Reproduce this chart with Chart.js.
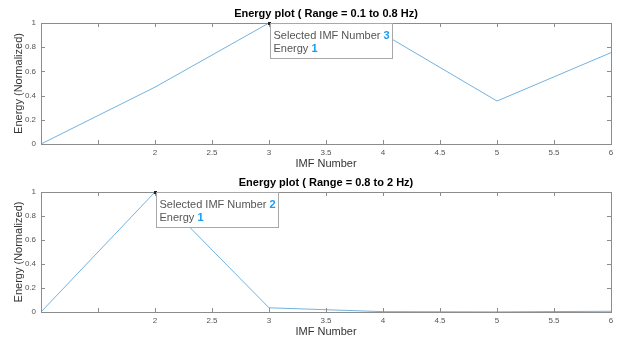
<!DOCTYPE html>
<html><head><meta charset="utf-8">
<script src="https://cdn.jsdelivr.net/npm/chart.js@4.4.1/dist/chart.umd.min.js"></script>
<style>
html,body{margin:0;padding:0;background:#fff;}
#wrap{position:relative;width:619px;height:340px;}
canvas{position:absolute;left:0;}
</style></head>
<body><div id="wrap">
<canvas id="c1" width="619" height="170" style="top:0"></canvas>
<canvas id="c2" width="619" height="170" style="top:170px"></canvas>
</div>
<script>
const imfNumbers = [1, 2, 3, 4, 5, 6];
const energyLow = [0, 0.47, 1, 0.91, 0.355, 0.755];
const energyHigh = [0, 1, 0.035, 0.003, 0.001, 0.006];
const titles = ["Energy plot ( Range = 0.1 to 0.8 Hz)", "Energy plot ( Range = 0.8 to 2 Hz)"];
const xTickValues = [1, 1.5, 2, 2.5, 3, 3.5, 4, 4.5, 5, 5.5, 6];
const xTickLabels = ["", "", "2", "2.5", "3", "3.5", "4", "4.5", "5", "5.5", "6"];
const yTickValues = [0, 0.2, 0.4, 0.6, 0.8, 1];
const yTickLabels = ["0", "0.2", "0.4", "0.6", "0.8", "1"];
const tipIndex = [2, 1];
const xTitle = "IMF Number";
const yTitle = "Energy (Normalized)";

const FONT = "'Liberation Sans', Arial, Helvetica, sans-serif";

function makeChart(id, values, title, tipIdx, topPad, xAxisH) {
  const axesPlugin = {
    id: 'matlabAxes',
    afterDraw(chart) {
      const ctx = chart.ctx, a = chart.chartArea;
      const xs = chart.scales.x, ys = chart.scales.y;
      ctx.save();
      // box
      ctx.strokeStyle = '#8c8c8c';
      ctx.lineWidth = 1;
      ctx.strokeRect(Math.round(a.left) + 0.5, Math.round(a.top) + 0.5, Math.round(a.right - a.left), Math.round(a.bottom - a.top));
      // inward ticks
      ctx.beginPath();
      xTickValues.forEach(v => {
        const px = Math.round(xs.getPixelForValue(v)) + 0.5;
        ctx.moveTo(px, a.bottom); ctx.lineTo(px, a.bottom - 4);
        ctx.moveTo(px, a.top); ctx.lineTo(px, a.top + 4);
      });
      yTickValues.forEach(v => {
        const py = Math.round(ys.getPixelForValue(v)) + 0.5;
        ctx.moveTo(a.left, py); ctx.lineTo(a.left + 4, py);
        ctx.moveTo(a.right, py); ctx.lineTo(a.right - 4, py);
      });
      ctx.stroke();
      // title
      ctx.fillStyle = '#000';
      ctx.font = 'bold 11px ' + FONT;
      ctx.textAlign = 'center';
      ctx.textBaseline = 'middle';
      ctx.fillText(title, (a.left + a.right) / 2, a.top - 9);
      // axis titles
      ctx.fillStyle = '#333';
      ctx.font = '11px ' + FONT;
      ctx.fillText(xTitle, (a.left + a.right) / 2, a.bottom + 20);
      ctx.save();
      ctx.translate(19, (a.top + a.bottom) / 2);
      ctx.rotate(-Math.PI / 2);
      ctx.fillText(yTitle, 0, 0);
      ctx.restore();
      // data tip
      const px = xs.getPixelForValue(imfNumbers[tipIdx]);
      const py = ys.getPixelForValue(values[tipIdx]);
      ctx.fillStyle = '#222';
      ctx.fillRect(Math.round(px) - 1, Math.round(py) - 1, 3, 3);
      const bx = Math.round(px) + 1.5, by = Math.round(py) + 0.5, bw = 122, bh = 35;
      ctx.fillStyle = 'rgba(255,255,255,0.97)';
      ctx.fillRect(bx, by, bw, bh);
      ctx.strokeStyle = '#a8a8a8';
      ctx.strokeRect(bx, by, bw, bh);
      ctx.textAlign = 'left';
      ctx.font = '11px ' + FONT;
      const l1 = 'Selected IMF Number ', l2 = 'Energy ';
      const w1 = ctx.measureText(l1).width, w2 = ctx.measureText(l2).width;
      ctx.fillStyle = '#555';
      ctx.fillText(l1, bx + 3, by + 12);
      ctx.fillText(l2, bx + 3, by + 25);
      ctx.fillStyle = '#1a9cf0';
      ctx.font = 'bold 11px ' + FONT;
      ctx.fillText(String(imfNumbers[tipIdx]), bx + 3 + w1, by + 12);
      ctx.fillText(String(values[tipIdx]), bx + 3 + w2, by + 25);
      ctx.restore();
    }
  };
  return new Chart(document.getElementById(id), {
    type: 'line',
    data: {
      datasets: [{
        data: imfNumbers.map((x, i) => ({x: x, y: values[i]})),
        borderColor: '#72b2df',
        borderWidth: 1,
        pointRadius: 0,
        tension: 0,
        fill: false
      }]
    },
    options: {
      responsive: false,
      animation: false,
      events: [],
      layout: {padding: {left: 0, right: 8, top: topPad, bottom: 0}},
      plugins: {legend: {display: false}, tooltip: {enabled: false}, title: {display: false}},
      scales: {
        x: {
          type: 'linear', min: 1, max: 6,
          afterBuildTicks(s) { s.ticks = xTickValues.map(v => ({value: v})); },
          afterFit(s) { s.height = xAxisH; },
          grid: {display: false, drawTicks: false},
          border: {display: false},
          ticks: {
            autoSkip: false, maxRotation: 0, padding: 4,
            font: {size: 8, family: FONT}, color: '#555',
            callback(v) { const i = xTickValues.indexOf(v); return i >= 0 ? xTickLabels[i] : ''; }
          }
        },
        y: {
          type: 'linear', min: 0, max: 1,
          afterBuildTicks(s) { s.ticks = yTickValues.map(v => ({value: v})); },
          afterFit(s) { s.width = 41; },
          grid: {display: false, drawTicks: false},
          border: {display: false},
          ticks: {
            padding: 5,
            font: {size: 8, family: FONT}, color: '#555',
            callback(v) { const i = yTickValues.indexOf(v); return i >= 0 ? yTickLabels[i] : ''; }
          }
        }
      }
    },
    plugins: [axesPlugin]
  });
}
makeChart('c1', energyLow, titles[0], tipIndex[0], 23, 26);
makeChart('c2', energyHigh, titles[1], tipIndex[1], 22, 28);
</script>
</body></html>
